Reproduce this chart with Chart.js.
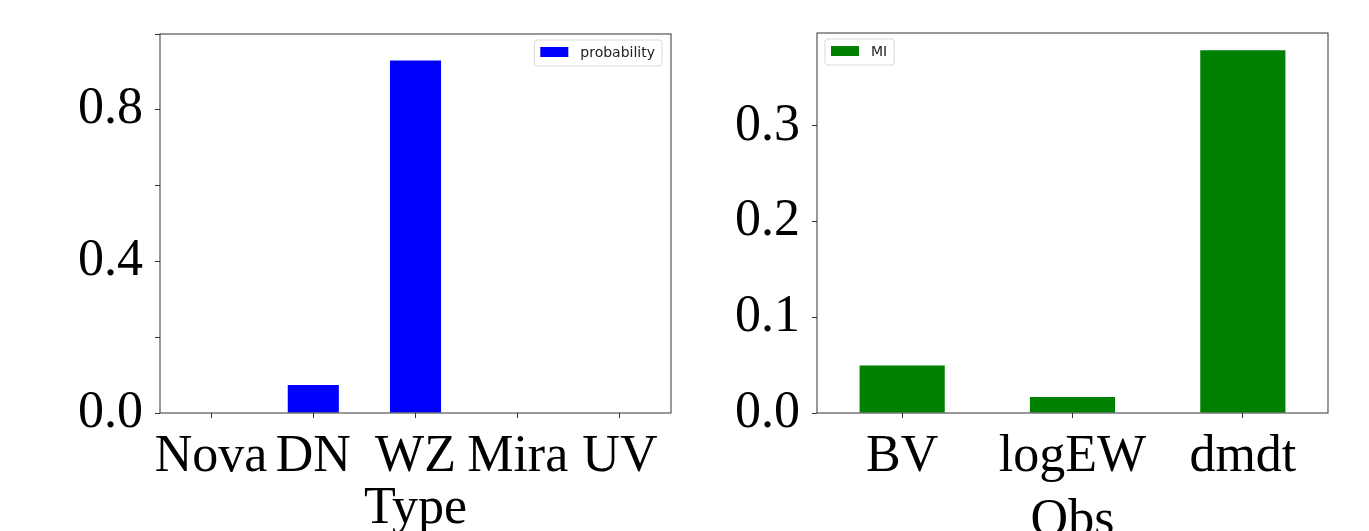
<!DOCTYPE html>
<html>
<head>
<meta charset="utf-8">
<script src="https://cdn.jsdelivr.net/npm/chart.js@4.4.0/dist/chart.umd.min.js"></script>
<style>
  html, body { margin: 0; padding: 0; background: #fff; overflow: hidden; }
  .box { position: absolute; top: 0; height: 538px; }
  #leftBox { left: 0; width: 700px; }
  #rightBox { left: 700px; width: 669px; }
</style>
</head>
<body>
<div class="box" id="leftBox"><canvas id="typeChart"></canvas></div>
<div class="box" id="rightBox"><canvas id="obsChart"></canvas></div>
<script>
var typeLabels = ['Nova', 'DN', 'WZ', 'Mira', 'UV'];
var probability = [0, 0.074, 0.93, 0, 0];

var obsLabels = ['BV', 'logEW', 'dmdt'];
var miValues = [0.0497, 0.0167, 0.3789];

var serif = '"Liberation Serif", "Times New Roman", serif';
var inkColor = '#333333';

// frame round the plot area plus a small boxed legend inside it
var framePlugin = {
    id: 'frame',
    afterDraw: function (chart, args, opts) {
        var ctx = chart.ctx;
        var a = chart.chartArea;
        ctx.save();
        ctx.strokeStyle = inkColor;
        ctx.lineWidth = 1;
        ctx.strokeRect(a.left, a.top, a.right - a.left, a.bottom - a.top);

        var ds = chart.data.datasets[0];
        ctx.font = '14px "DejaVu Sans", sans-serif';
        var textW = ctx.measureText(ds.label).width;
        var w = 6 + 28 + 12 + textW + 7;
        var h = 26;
        var x = opts.side === 'right' ? a.right - 9 - w : a.left + 8;
        var y = a.top + 6;
        ctx.fillStyle = 'rgba(255,255,255,0.8)';
        ctx.strokeStyle = '#d9d9d9';
        ctx.beginPath();
        ctx.roundRect(x, y, w, h, 3);
        ctx.fill();
        ctx.stroke();
        ctx.fillStyle = ds.backgroundColor;
        ctx.fillRect(x + 6, y + 7, 28, 10);
        ctx.fillStyle = '#222';
        ctx.textBaseline = 'middle';
        ctx.fillText(ds.label, x + 46, y + h / 2);
        ctx.restore();
    }
};

function makeChart(id, labels, values, label, color, yMax, step, labelEvery, side, yWidth, padRight, padTop, title, titleDrop) {
    return new Chart(document.getElementById(id), {
        type: 'bar',
        data: {
            labels: labels,
            datasets: [{
                label: label,
                data: values,
                backgroundColor: color,
                categoryPercentage: 1.0,
                barPercentage: 0.5
            }]
        },
        options: {
            responsive: true,
            maintainAspectRatio: false,
            animation: false,
            layout: { padding: { left: 0, right: padRight, top: padTop, bottom: 0 } },
            plugins: {
                legend: { display: false },
                tooltip: { enabled: false },
                frame: { side: side }
            },
            scales: {
                x: {
                    offset: true,
                    grid: { offset: false, drawOnChartArea: false, drawTicks: true, tickLength: 5, color: inkColor },
                    border: { display: false },
                    ticks: {
                        autoSkip: false, maxRotation: 0, minRotation: 0, padding: 8,
                        color: '#000', font: { family: serif, size: 52 }
                    },
                    title: {
                        display: true, text: title, color: '#000',
                        padding: { top: 0, bottom: -titleDrop },
                        font: { family: serif, size: 52, lineHeight: 1.2 }
                    },
                    afterFit: function (scale) {
                        scale.height = 125;
                        scale.paddingLeft = 0;
                        scale.paddingRight = 0;
                    }
                },
                y: {
                    min: 0,
                    max: yMax,
                    grid: { drawOnChartArea: false, drawTicks: true, tickLength: 5, color: inkColor },
                    border: { display: false },
                    ticks: {
                        stepSize: step,
                        padding: 12,
                        color: '#000',
                        font: { family: serif, size: 52 },
                        callback: function (value) {
                            var k = value / labelEvery;
                            if (Math.abs(k - Math.round(k)) < 1e-6 && value < yMax - 1e-6) {
                                return value.toFixed(1);
                            }
                            return '';
                        }
                    },
                    afterBuildTicks: function (scale) {
                        scale.ticks = scale.ticks.filter(function (t) {
                            var k = t.value / step;
                            return Math.abs(k - Math.round(k)) < 1e-6;
                        });
                    },
                    afterFit: function (scale) {
                        scale.width = yWidth;
                        scale.paddingTop = 0;
                        scale.paddingBottom = 0;
                    }
                }
            }
        },
        plugins: [framePlugin]
    });
}

makeChart('typeChart', typeLabels, probability, 'probability', '#0000ff',
    1.0, 0.2, 0.4, 'right', 160, 29, 34, 'Type', 3);
makeChart('obsChart', obsLabels, miValues, 'MI', '#008000',
    0.397, 0.05, 0.1, 'left', 117, 41, 33, 'Obs', 15);
</script>
</body>
</html>
